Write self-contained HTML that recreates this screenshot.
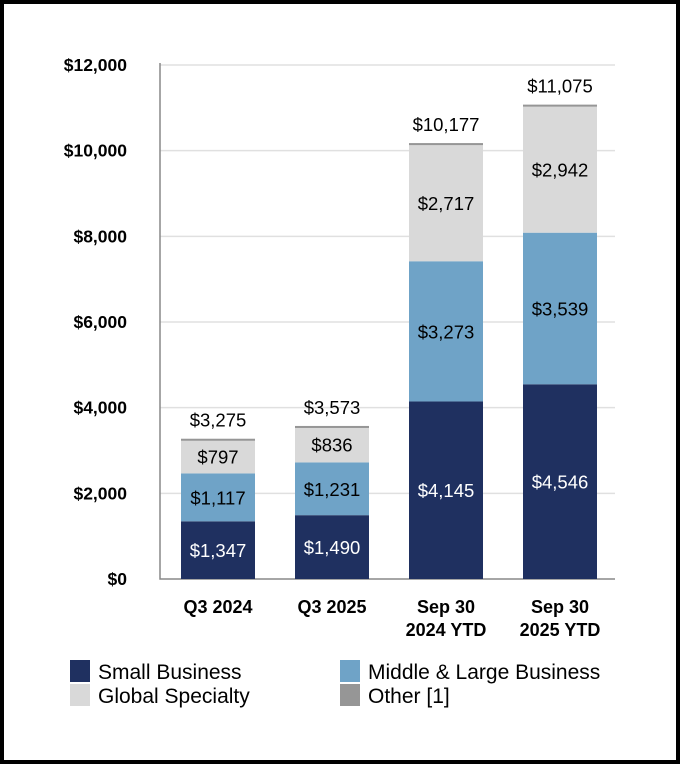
<!DOCTYPE html>
<html><head><meta charset="utf-8"><style>
html,body{margin:0;padding:0;background:#fff}
svg{display:block;font-family:"Liberation Sans",Arial,sans-serif}
</style></head><body>
<svg id="c" width="680" height="764" viewBox="0 0 680 764">
<rect x="2" y="2" width="676" height="760" fill="#fff" stroke="#000" stroke-width="4"/>
<g id="grid"></g><g id="bars"></g><g id="labels"></g>
<g font-size="21" fill="#000">
<rect x="70" y="660" width="20" height="22" fill="#1f3060"/>
<text x="98" y="679">Small Business</text>
<rect x="70" y="684" width="20" height="22" fill="#d9d9d9"/>
<text x="98" y="703">Global Specialty</text>
<rect x="340" y="660" width="20" height="22" fill="#6fa3c7"/>
<text x="368" y="679">Middle &amp; Large Business</text>
<rect x="340" y="684" width="20" height="22" fill="#969696"/>
<text x="368" y="703">Other [1]</text>
</g>
</svg>
<script>
const categories=[["Q3 2024"],["Q3 2025"],["Sep 30","2024 YTD"],["Sep 30","2025 YTD"]];
const smallBusiness=[1347,1490,4145,4546];
const middleLarge=[1117,1231,3273,3539];
const globalSpecialty=[797,836,2717,2942];
const other=[14,16,42,48];
const totals=[3275,3573,10177,11075];
const yTicks=[0,2000,4000,6000,8000,10000,12000];
const seriesNames=["small-business","middle-large","global-specialty","other"];
const NS="http://www.w3.org/2000/svg";
const y0=579,y1=65,vmax=12000,xL=160,xR=615;
const y=v=>y0-(v/vmax)*(y0-y1);
const bw=74,step=114,x=i=>181+i*step;
function mk(t,a,p){const e=document.createElementNS(NS,t);for(const k in a)e.setAttribute(k,a[k]);p.appendChild(e);return e;}
const g=document.getElementById('grid'),b=document.getElementById('bars'),l=document.getElementById('labels');
const fmt=v=>'$'+v.toLocaleString('en-US');
yTicks.forEach(v=>{
 if(v>0){const ln=mk('line',{x1:xL,x2:xR,y1:y(v),y2:y(v),stroke:'#e0e0e0','stroke-width':1.5},g);
 
 }
 const t=mk('text',{x:127,y:y(v)+6,'text-anchor':'end','font-size':17.5,'font-weight':'bold'},g);t.textContent=fmt(v);
 
 
});
const ax=mk('path',{d:`M${xL} ${y1-2}V${y0}H${xR}`,fill:'none',stroke:'#888','stroke-width':1.5},g);


const series=[smallBusiness,middleLarge,globalSpecialty,other];
const colors=['#1f3060','#6fa3c7','#d9d9d9','#969696'];
const txtCol=['#fff','#000','#000',null];
categories.forEach((c,i)=>{
 let base=0;
 series.forEach((s,k)=>{
  const v=s[i],top=base+v;
  const r=mk('rect',{x:x(i),y:y(top),width:bw,height:Math.max(y(base)-y(top),k==3?2:0),fill:colors[k]},b);
  
  
  if(txtCol[k]){const t=mk('text',{x:x(i)+bw/2,y:(y(base)+y(top))/2+7,'text-anchor':'middle','font-size':18.5,fill:txtCol[k]},l);t.textContent=fmt(v);
   
   }
  base=top;
 });
 const tt=mk('text',{x:x(i)+bw/2,y:y(totals[i])-12,'text-anchor':'middle','font-size':18.5},l);tt.textContent=fmt(totals[i]);
 
 
 c.forEach((line,j)=>{const t=mk('text',{x:x(i)+bw/2,y:613+j*23,'text-anchor':'middle','font-size':18,'font-weight':'bold'},l);t.textContent=line;
  
  });
});
</script>
</body></html>
